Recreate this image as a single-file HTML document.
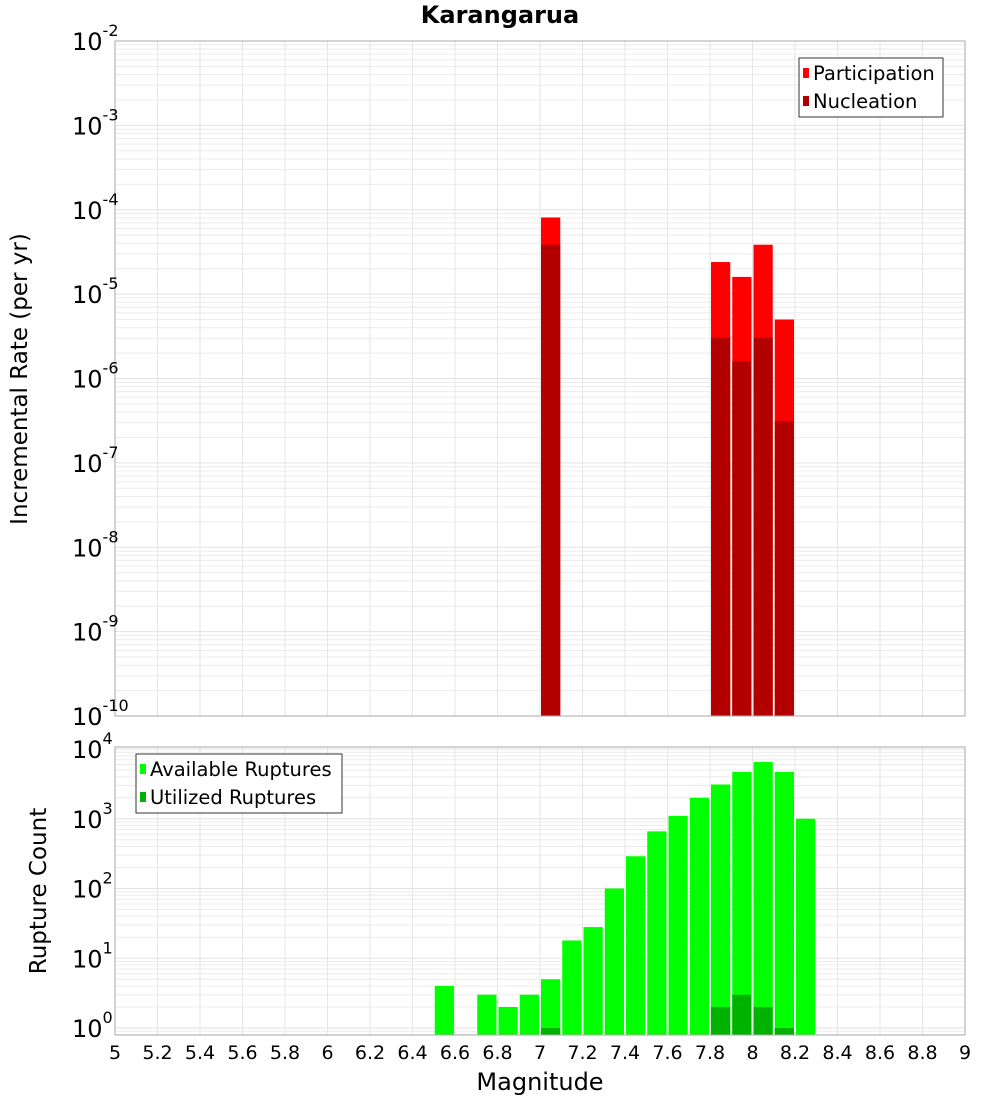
<!DOCTYPE html>
<html><head><meta charset="utf-8"><style>
body{margin:0;background:#fff;}
svg{display:block;font-family:"DejaVu Sans","Liberation Sans",sans-serif;}
</style></head><body>
<svg id="c" width="1000" height="1100" xmlns="http://www.w3.org/2000/svg">
<text x="500" y="23" text-anchor="middle" font-size="24" font-weight="bold">Karangarua</text>
<text transform="translate(27,379) rotate(-90)" text-anchor="middle" font-size="23">Incremental Rate (per yr)</text>
<text transform="translate(46,891) rotate(-90)" text-anchor="middle" font-size="23">Rupture Count</text>
<text x="540" y="1090" text-anchor="middle" font-size="24">Magnitude</text>
</svg>
<script>
const topMags=[7.05,7.85,7.95,8.05,8.15];
const participation=[8.1e-5,2.4e-5,1.6e-5,3.85e-5,5.0e-6];
const nucleation=[3.85e-5,3.05e-6,1.6e-6,3.05e-6,3.1e-7];
const botMags=[6.55,6.75,6.85,6.95,7.05,7.15,7.25,7.35,7.45,7.55,7.65,7.75,7.85,7.95,8.05,8.15,8.25];
const available=[4,3,2,3,5,18,28,100,290,660,1100,2000,3100,4700,6500,4700,1000];
const utilized=[0,0,0,0,1,0,0,0,0,0,0,0,2,3,2,1,0];
const xTicks=[5,5.2,5.4,5.6,5.8,6,6.2,6.4,6.6,6.8,7,7.2,7.4,7.6,7.8,8,8.2,8.4,8.6,8.8,9];
const topExps=[-2,-3,-4,-5,-6,-7,-8,-9,-10];
const botExps=[4,3,2,1,0];

const svg=document.getElementById('c');
const NS='http://www.w3.org/2000/svg';
function mk(t,a,p){const e=document.createElementNS(NS,t);for(const k in a)e.setAttribute(k,a[k]);(p||svg).appendChild(e);return e;}
const X0=115,X1=965;
const xs=m=>X0+(m-5)/4*(X1-X0);
const T0=41,T1=716;
const yTop=v=>T0+(-2-Math.log10(v))*(T1-T0)/8;
const B0=747,B1=1035;
const yBot=v=>1028-69.75*Math.log10(v);

function panel(y0,y1,yf,lo,hi,name){
  const g=mk('g',{});
  
  
  for(let e=lo;e<hi;e++)for(let k=1;k<10;k++){
    const y=yf(k*Math.pow(10,e));
    if(y<y0||y>y1)continue;
    mk('line',{x1:X0,x2:X1,y1:y,y2:y,stroke:k==1?'#e2e2e2':'#ececec','stroke-width':1},g);
  }
  xTicks.forEach(t=>{const x=xs(t);mk('line',{x1:x,x2:x,y1:y0,y2:y1,stroke:'#e6e6e6','stroke-width':1},g);});
}
panel(T0,T1,yTop,-10,-2,'top');
panel(B0,B1,yBot,-1,5,'bottom');

function bar(m,v,yf,base,fill,name){
  const x=xs(m-0.05)+1,w=xs(m+0.05)-xs(m-0.05)-2,y=yf(v);
  const r=mk('rect',{x:x,y:y,width:w,height:base-y,fill:fill});
  
  
}
topMags.forEach((m,i)=>{bar(m,participation[i],yTop,T1,'#ff0000','participation-bar');});
topMags.forEach((m,i)=>{bar(m,nucleation[i],yTop,T1,'#b20000','nucleation-bar');});
botMags.forEach((m,i)=>{bar(m,available[i],yBot,B1,'#00ff00','available-bar');});
botMags.forEach((m,i)=>{if(utilized[i]>0)bar(m,utilized[i],yBot,B1,'#00b200','utilized-bar');});

mk('rect',{x:X0,y:T0,width:X1-X0,height:T1-T0,fill:'none',stroke:'#aaa'});
mk('rect',{x:X0,y:B0,width:X1-X0,height:B1-B0,fill:'none',stroke:'#aaa'});

function ytick(e,y,fs){
  const t=mk('text',{x:72,y:y+9,'text-anchor':'start','font-size':fs});
  
  
  const a=mk('tspan',{},t);a.textContent='10';
  const b=mk('tspan',{dy:-14,'font-size':16},t);b.textContent=String(e);
}
topExps.forEach(e=>ytick(e,yTop(Math.pow(10,e)),24));
botExps.forEach(e=>ytick(e,yBot(Math.pow(10,e)),24));
xTicks.forEach(t=>{
  const tx=mk('text',{x:xs(t),y:1059,'text-anchor':'middle','font-size':19});
  
  
  tx.textContent=String(t);
});

function legend(x,y,w,items,name){
  const g=mk('g',{});
  
  
  mk('rect',{x:x,y:y,width:w,height:59,fill:'#fff',stroke:'#333'},g);
  items.forEach((it,i)=>{
    mk('rect',{x:x+4,y:y+10+i*28,width:6,height:10,fill:it[1]},g);
    const t=mk('text',{x:x+14,y:y+22+i*28,'font-size':19.5},g);t.textContent=it[0];
  });
}
legend(799,58,144,[['Participation','#ff0000'],['Nucleation','#b20000']],'top-legend');
legend(136,754,206,[['Available Ruptures','#00ff00'],['Utilized Ruptures','#00b200']],'bottom-legend');
</script>
</body></html>
